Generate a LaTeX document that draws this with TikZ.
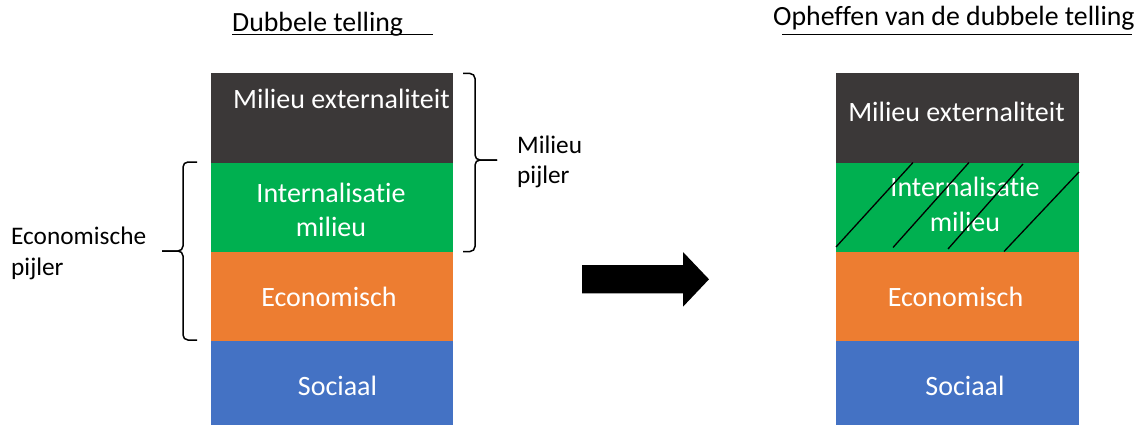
\documentclass[tikz,border=0pt]{standalone}
\usepackage{fontspec}
\setmainfont{Carlito}[Ligatures=NoCommon]
\definecolor{layerdark}{HTML}{3B3838}
\definecolor{layergreen}{HTML}{00B050}
\definecolor{layerorange}{HTML}{ED7D31}
\definecolor{layerblue}{HTML}{4472C4}
\begin{document}
\begin{tikzpicture}[x=1pt,y=-1pt,
  layer/.style={draw=none,inner sep=0pt,minimum width=242.5pt,anchor=north west},
  layertext/.style={text=white,inner sep=0pt,anchor=base,font=\fontsize{28}{34}\selectfont},
  headtext/.style={inner sep=0pt,anchor=base west,font=\fontsize{27.8}{33}\selectfont},
  sidetext/.style={inner sep=0pt,anchor=base west,font=\fontsize{25.3}{30}\selectfont},
  brace/.style={line width=1.5pt,rounded corners=5pt},
  hatch/.style={line width=1.3pt},
  underline/.style={line width=1.3pt}]
\useasboundingbox (0,0) rectangle (1143,425);

% headings
\node[headtext] (h1) at (232,32) {Dubbele telling};
\draw[underline] (232,34.3) -- (433,34.3);
\node[headtext] (h2) at (773,26) {Opheffen van de dubbele telling};
\draw[underline] (782,34.3) -- (1132,34.3);

% left stack
\node[layer,fill=layerdark,minimum height=89.5pt] (l1) at (210.5,73) {};
\node[layer,fill=layergreen,minimum height=89pt] (l2) at (210.5,162.5) {};
\node[layer,fill=layerorange,minimum height=89pt] (l3) at (210.5,251.5) {};
\node[layer,fill=layerblue,minimum height=84.5pt] (l4) at (210.5,340.5) {};
\node[layertext,anchor=base west] (t1) at (233,108.3) {Milieu externaliteit};
\node[layertext] (t2a) at (331,202.7) {Internalisatie};
\node[layertext] (t2b) at (331,236) {milieu};
\node[layertext] (t3) at (329,306) {Economisch};
\node[layertext] (t4) at (337.5,395) {Sociaal};

% right stack
\node[layer,fill=layerdark,minimum height=89.5pt] (r1) at (836,73) {};
\node[layer,fill=layergreen,minimum height=89pt] (r2) at (836,162.5) {};
\node[layer,fill=layerorange,minimum height=89pt] (r3) at (836,251.5) {};
\node[layer,fill=layerblue,minimum height=84.5pt] (r4) at (836,340.5) {};
\node[layertext] (s1) at (956.5,121.7) {Milieu externaliteit};
\node[layertext] (s2a) at (965,196.7) {Internalisatie};
\node[layertext] (s2b) at (965,231) {milieu};
\node[layertext] (s3) at (955.5,306) {Economisch};
\node[layertext] (s4) at (965,395) {Sociaal};

% strike-through hatching of the internalised part
\draw[hatch] (836,247) -- (913,162.5);
\draw[hatch] (893,247.5) -- (969,162.5);
\draw[hatch] (948,249) -- (1023,164);
\draw[hatch] (1004,251.5) -- (1079,172);

% braces and their labels
\draw[brace] (197,162) -- (183,162) -- (183,251) -- (162,251);
\draw[brace] (162,251) -- (183,251) -- (183,340) -- (197,340);
\node[sidetext] (e1) at (11,244.3) {Economische};
\node[sidetext] (e2) at (11,275) {pijler};

\draw[brace] (463,73.5) -- (475,73.5) -- (475,160) -- (497,160);
\draw[brace] (497,160) -- (475,160) -- (475,251.5) -- (463,251.5);
\node[sidetext] (m1) at (517,153.3) {Milieu};
\node[sidetext] (m2) at (517,183.3) {pijler};

% block arrow
\fill (582,265) -- (683,265) -- (683,252) -- (709,279.3) -- (683,306.7) -- (683,293.3) -- (582,293.3) -- cycle;
\end{tikzpicture}
\end{document}
